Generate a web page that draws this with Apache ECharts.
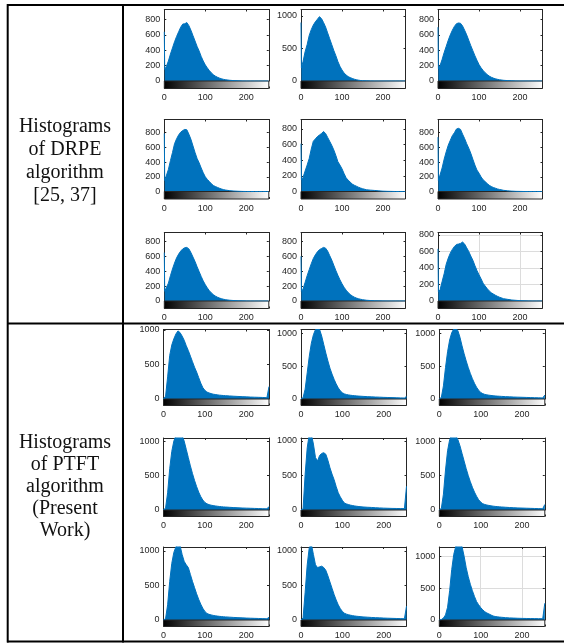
<!DOCTYPE html>
<html><head><meta charset="utf-8">
<script src="https://cdn.jsdelivr.net/npm/echarts@6/dist/echarts.min.js"></script>
<style>html,body{margin:0;padding:0;background:#fff}#c{width:564px;height:643px}</style>
</head><body><div id="c"></div>
<script>
// grey levels at which histogram counts were read
const LEVELS = [0,1,5,10,15,20,25,30,35,40,45,50,55,60,65,70,75,80,85,90,95,100,105,110,115,120,125,130,135,140,145,150,160,170,180,190,200,210,220,230,240,250,254,255];
const GRAY_RANGE = [0, 255];
const X_TICK_STEP = 100;

// DRPE histograms (row-major, 3x3)
const DRPE_R1C1 = [640,150, 190,260,350,430,510,580,640,700,740,745, 760,720,660,590,520,450,390,320,260,210, 170,135,105,80,62,48,37,28,21,16, 9,5,3,1,0,0,0,0,0,0, 0,0];
const DRPE_R1C2 = [900,200, 300,450,560,700,790,860,910,950,990,960, 900,830,740,650,560,470,390,300,226,170, 125,92,68,52,40,28,20,13,8,5, 3,1,0,0,0,0,0,0,0,0, 0,0];
const DRPE_R1C3 = [700,160, 200,280,370,450,530,600,660,710,745,755, 750,715,660,600,530,460,395,330,270,215, 172,138,108,84,64,49,38,29,22,16, 9,5,3,1,0,0,0,0,0,0, 0,0];
const DRPE_R2C1 = [790,150, 170,300,420,530,650,718,770,808,830,845, 840,780,710,620,530,449,390,320,255,200, 165,135,105,80,67,55,43,33,25,19, 11,6,3,1,0,0,0,0,0,0, 0,0];
const DRPE_R2C2 = [610,150, 180,260,337,420,540,640,670,700,720,740, 765,740,690,640,589,530,460,380,337,290, 230,175,145,120,95,80,68,55,45,36, 22,17,13,8,4,2,1,0,0,0, 0,0];
const DRPE_R2C3 = [740,150, 170,320,440,540,630,696,760,800,850,860, 845,780,720,651,590,520,440,360,292,250, 200,160,135,108,85,68,55,45,35,28, 16,9,5,2,1,0,0,0,0,0, 0,0];
const DRPE_R3C1 = [650,130, 150,240,340,430,510,580,630,670,700,715, 720,700,650,590,530,460,395,330,270,220, 175,138,108,84,65,50,39,30,23,17, 10,6,3,2,1,0,0,0,0,0, 0,0];
const DRPE_R3C2 = [600,130, 160,250,340,420,500,570,620,660,690,705, 720,710,670,610,550,480,410,345,285,232, 185,146,114,88,68,52,40,31,24,18, 10,6,3,2,1,0,0,0,0,0, 0,0];
const DRPE_R3C3 = [632,110, 135,235,330,445,520,580,625,660,685,690, 698,714,690,645,600,545,495,430,370,318, 270,216,182,150,122,100,85,70,57,46, 28,20,12,8,4,2,1,0,0,0, 0,0];

// PTFT histograms (row-major, 3x3)
const PTFT_R1C1 = [0,0, 40,320,630,780,870,940,985,960,910,850, 770,700,620,540,460,390,310,230,165,125, 100,88,78,70,65,60,56,53,50,48, 44,40,37,34,31,28,26,24,22,19, 19,180];
const PTFT_R1C2 = [0,0, 20,150,400,650,850,980,1060,1080,1060,960, 830,700,580,470,380,300,230,170,125,95, 78,68,62,57,53,50,47,44,42,40, 36,33,30,28,25,23,21,19,17,15, 15,40];
const PTFT_R1C3 = [0,0, 25,200,480,720,900,1010,1070,1080,1040,940, 810,690,580,480,390,310,240,180,135,100, 82,70,63,58,54,50,47,44,42,40, 36,33,30,28,26,24,22,20,18,16, 16,60];
const PTFT_R2C1 = [0,0, 30,250,600,850,1000,1080,1100,1100,1080,1000, 880,760,640,530,430,340,260,195,145,110, 90,78,70,64,59,55,51,48,45,43, 39,35,32,29,27,25,23,21,19,17, 17,50];
const PTFT_R2C2 = [0,0, 15,515,900,1100,1100,955,760,710,790,820, 830,808,720,612,520,440,340,250,190,140, 100,88,78,70,64,58,54,50,47,44, 40,37,33,30,27,25,23,22,21,20, 20,343];
const PTFT_R2C3 = [0,0, 25,230,580,860,1020,1090,1100,1080,1020,930, 820,710,600,500,410,330,260,200,150,115, 92,80,72,66,60,56,52,49,46,44, 40,36,33,30,28,26,24,22,20,18, 18,80];
const PTFT_R3C1 = [0,0, 20,220,560,820,980,1060,1100,1080,950,850, 800,760,660,560,470,380,300,230,170,125, 95,82,74,67,61,57,53,50,47,45, 41,37,34,31,28,26,24,22,20,18, 18,40];
const PTFT_R3C2 = [0,0, 30,400,800,1050,1100,950,800,760,770,780, 760,720,640,550,460,370,290,220,165,125, 98,85,76,69,63,58,54,51,48,45, 41,37,34,31,28,26,24,22,20,18, 18,200];
const PTFT_R3C3 = [0,0, 8,30,80,200,460,790,1030,1160,1200,1200, 1150,1000,820,680,560,460,370,290,240,195, 160,130,110,95,78,63,55,50,46,43, 37,33,30,27,25,24,23,22,21,20, 20,263];

// y-axis limits and tick steps
const DRPE_YMAX = [930,1100,930, 980,918,980, 920,920,830];
const DRPE_YSTEP = [200,500,200, 200,200,200, 200,200,200];
const PTFT_YMAX = [1005,1060,1060, 1045,1043,1045, 1058,1058,1145];
const PTFT_YSTEP = [500,500,500, 500,500,500, 500,500,500];

const ROW_LABELS = ['Histograms\nof DRPE\nalgorithm\n[25, 37]', 'Histograms\nof PTFT\nalgorithm\n(Present\nWork)'];

const DRPE_SERIES = [DRPE_R1C1,DRPE_R1C2,DRPE_R1C3,DRPE_R2C1,DRPE_R2C2,DRPE_R2C3,DRPE_R3C1,DRPE_R3C2,DRPE_R3C3];
const PTFT_SERIES = [PTFT_R1C1,PTFT_R1C2,PTFT_R1C3,PTFT_R2C1,PTFT_R2C2,PTFT_R2C3,PTFT_R3C1,PTFT_R3C2,PTFT_R3C3];

// layout
const LAYOUT = {
  drpe: {lefts:[164.3,301,438], width:104.5, tops:[9.5,119.5,232.5], heights:[71.5,72,68.5], cb:7.5},
  ptft: {lefts:[163.5,301,439.3], width:105.5, tops:[329.5,438,547], heights:[69.5,72,73], cb:6.5}
};
const BLUE = '#0072BD';
const AX = '#262626';
const FONT = 'Liberation Sans';

const grids = [], xAxes = [], yAxes = [], series = [];
const fmt = step => v => (Math.abs(v % step) < 1e-6 ? String(v) : '');

function renderBar(params, api) {
  const p0 = api.coord([api.value(0), 0]);
  const p1 = api.coord([api.value(1), 1]);
  return {
    type: 'rect',
    shape: {x: p0[0], y: p1[1], width: p1[0] - p0[0], height: p0[1] - p1[1]},
    style: {
      fill: new echarts.graphic.LinearGradient(0, 0, 1, 0, [{offset: 0, color: '#000'}, {offset: 1, color: '#fff'}]),
      stroke: AX, lineWidth: 1
    }
  };
}

function addPlot(vals, ymax, ystep, box, cbH, gridLines) {
  const gi = grids.length, xi = xAxes.length, yi = yAxes.length;
  grids.push({left: box.left, top: box.top, width: box.width, height: box.height});
  grids.push({left: box.left, top: box.top + box.height, width: box.width, height: cbH});
  const tick = {show: true, inside: true, length: 2, lineStyle: {color: AX, width: 1}};
  const line = {show: true, onZero: false, lineStyle: {color: AX, width: 1}};
  xAxes.push({gridIndex: gi, type: 'value', min: GRAY_RANGE[0], max: GRAY_RANGE[1], interval: X_TICK_STEP, position: 'bottom',
    axisLine: {show: false, onZero: false}, axisTick: {show: false}, axisLabel: {show: false},
    splitLine: {show: gridLines, lineStyle: {color: '#dcdcdc', width: 1}}});
  xAxes.push({gridIndex: gi, type: 'value', min: GRAY_RANGE[0], max: GRAY_RANGE[1], interval: X_TICK_STEP, position: 'top',
    axisLine: line, axisTick: tick, axisLabel: {show: false}, splitLine: {show: false}});
  xAxes.push({gridIndex: gi + 1, type: 'value', min: GRAY_RANGE[0], max: GRAY_RANGE[1], interval: X_TICK_STEP, position: 'bottom',
    axisLine: {show: false, onZero: false}, axisTick: tick,
    axisLabel: {show: true, formatter: fmt(X_TICK_STEP), fontSize: 9, color: AX, fontFamily: FONT, margin: 5},
    splitLine: {show: false}});
  yAxes.push({gridIndex: gi, type: 'value', min: 0, max: ymax, interval: ystep, position: 'left',
    axisLine: line, axisTick: tick,
    axisLabel: {formatter: fmt(ystep), fontSize: 9, color: AX, fontFamily: FONT, margin: 4},
    splitLine: {show: gridLines, lineStyle: {color: '#dcdcdc', width: 1}}});
  yAxes.push({gridIndex: gi, type: 'value', min: 0, max: ymax, interval: ystep, position: 'right',
    axisLine: line, axisTick: tick, axisLabel: {show: false}, splitLine: {show: false}});
  yAxes.push({gridIndex: gi + 1, type: 'value', min: 0, max: 1, show: false});
  series.push({type: 'line', xAxisIndex: xi, yAxisIndex: yi, data: LEVELS.map((l, i) => [l, vals[i]]),
    symbol: 'none', showSymbol: false, lineStyle: {color: BLUE, width: 1}, areaStyle: {color: BLUE, opacity: 1},
    clip: true, silent: true, z: 2});
  series.push({type: 'custom', xAxisIndex: xi + 2, yAxisIndex: yi + 2, data: [GRAY_RANGE], renderItem: renderBar, silent: true, clip: false});
}

function addSection(list, ymaxes, steps, lay) {
  for (let r = 0; r < 3; r++) for (let c = 0; c < 3; c++) {
    const k = r * 3 + c;
    addPlot(list[k], ymaxes[k], steps[k], {left: lay.lefts[c], top: lay.tops[r], width: lay.width, height: lay.heights[r]}, lay.cb, k === 8);
  }
}
addSection(DRPE_SERIES, DRPE_YMAX, DRPE_YSTEP, LAYOUT.drpe);
addSection(PTFT_SERIES, PTFT_YMAX, PTFT_YSTEP, LAYOUT.ptft);

const ln = (x1, y1, x2, y2) => ({type: 'line', shape: {x1, y1, x2, y2}, style: {stroke: '#000', lineWidth: 2}, silent: true});
const txt = (x, y, t, lh) => ({type: 'text', x, y, silent: true,
  style: {text: t, fontFamily: 'Liberation Serif', fontSize: 20, lineHeight: lh, fill: '#111', align: 'center', verticalAlign: 'middle'}});

const chart = echarts.init(document.getElementById('c'), null, {renderer: 'canvas', width: 564, height: 643});
chart.setOption({
  animation: false,
  backgroundColor: '#fff',
  grid: grids, xAxis: xAxes, yAxis: yAxes, series: series,
  graphic: [
    ln(7, 5, 564, 5), ln(7, 323.5, 564, 323.5), ln(7, 641.5, 564, 641.5),
    ln(7.7, 4, 7.7, 642.5), ln(123, 4, 123, 642.5),
    txt(65, 161, ROW_LABELS[0], 23), txt(65, 487, ROW_LABELS[1], 22)
  ]
});
</script>
</body></html>
